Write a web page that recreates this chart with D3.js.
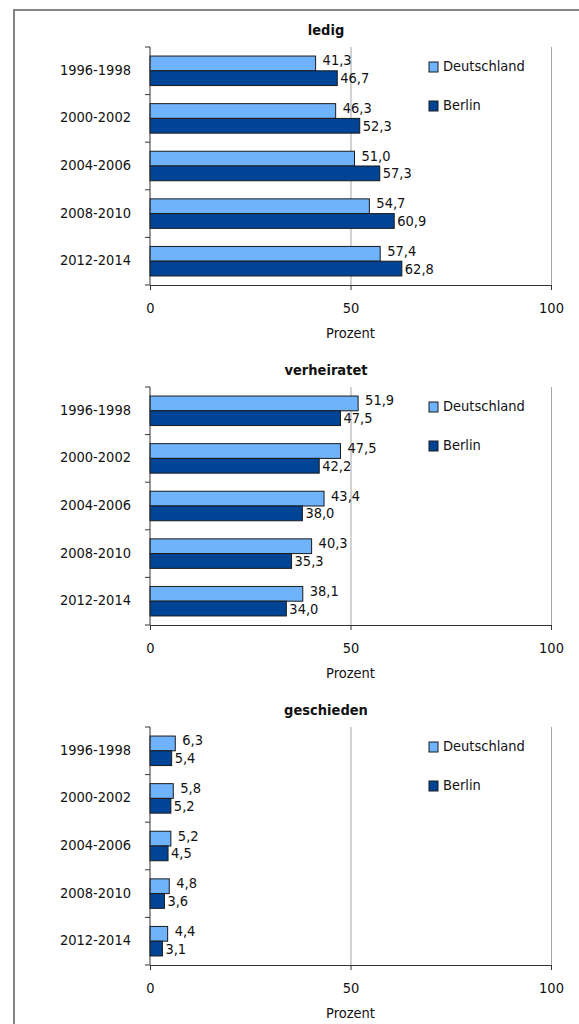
<!DOCTYPE html>
<html><head><meta charset="utf-8">
<script src="https://cdn.jsdelivr.net/npm/d3@7"></script>
<style>
html,body{margin:0;padding:0;background:#fff;}
svg{display:block;}
text{font-family:"DejaVu Sans Condensed","Open Sans",sans-serif;fill:#111;}
</style></head>
<body>
<svg id="chart" width="579" height="1024"></svg>
<script>
const categories = ["1996-1998","2000-2002","2004-2006","2008-2010","2012-2014"];
const seriesNames = ["Deutschland","Berlin"];
const panelTitles = ["ledig","verheiratet","geschieden"];
const ledigDeutschland = [41.3,46.3,51.0,54.7,57.4];
const ledigBerlin = [46.7,52.3,57.3,60.9,62.8];
const verheiratetDeutschland = [51.9,47.5,43.4,40.3,38.1];
const verheiratetBerlin = [47.5,42.2,38.0,35.3,34.0];
const geschiedenDeutschland = [6.3,5.8,5.2,4.8,4.4];
const geschiedenBerlin = [5.4,5.2,4.5,3.6,3.1];
const xTicks = [0,50,100];
const axisTitle = "Prozent";

const panels = [
  {title: panelTitles[0], data: [ledigDeutschland, ledigBerlin]},
  {title: panelTitles[1], data: [verheiratetDeutschland, verheiratetBerlin]},
  {title: panelTitles[2], data: [geschiedenDeutschland, geschiedenBerlin]}
];
const colors = ["#6fb3fd","#004595"];
const FS = 14.5;
const FF = "DejaVu Sans Condensed, Open Sans, sans-serif";

const svg = d3.select("#chart");
// outer frame
svg.append("line").attr("x1",14).attr("x2",14).attr("y1",9).attr("y2",1024).attr("stroke","#858585").attr("stroke-width",2);
svg.append("line").attr("x1",14).attr("x2",579).attr("y1",10).attr("y2",10).attr("stroke","#858585").attr("stroke-width",2);

const x = d3.scaleLinear().domain([0,100]).range([150,551]);

panels.forEach((p, pi) => {
  const off = pi * 340;
  const top = 47 + off, bottom = 285 + off;
  const g = svg.append("g");
  const y = d3.scaleBand().domain(categories).range([top, bottom]).paddingInner(0.38).paddingOuter(0.19);
  const y2 = d3.scaleBand().domain([0,1]).range([0, y.bandwidth()]);

  // gridlines
  g.selectAll(".grid").data(xTicks.slice(1)).join("line")
    .attr("x1", d => x(d)+0.5).attr("x2", d => x(d)+0.5)
    .attr("y1", top).attr("y2", bottom)
    .attr("stroke", "#a6a6a6").attr("stroke-width", 1);

  // title
  g.append("text").attr("x", 326).attr("y", top - 16)
    .attr("text-anchor","middle").attr("dominant-baseline","middle").attr("font-size",FS).attr("font-weight","bold").text(p.title);

  // bars
  p.data.forEach((vals, si) => {
    g.selectAll(".bar"+si).data(vals).join("rect")
      .attr("x", x(0)).attr("y", (d,i) => y(categories[i]) + y2(si))
      .attr("width", d => x(d) - x(0)).attr("height", y2.bandwidth())
      .attr("fill", colors[si]).attr("stroke", "#1a1a1a").attr("stroke-width", 1);
    g.selectAll(".lab"+si).data(vals).join("text")
      .attr("x", d => x(d) + (si === 0 ? 7 : 3))
      .attr("y", (d,i) => y(categories[i]) + y2(si) + y2.bandwidth()/2 + (si === 0 ? -2 : 1))
      .attr("dominant-baseline","middle").attr("font-size",FS)
      .text(d => d3.format(".1f")(d).replace(".", ","));
  });

  // y axis
  const yAxisG = g.append("g").attr("transform", `translate(${x(0)},0)`);
  yAxisG.append("line").attr("x1",0).attr("x2",0).attr("y1",top).attr("y2",bottom).attr("stroke","#333");
  const bounds = d3.range(categories.length+1).map(i => top + i*(bottom-top)/categories.length);
  yAxisG.selectAll(".tk").data(bounds).join("line")
    .attr("x1",-5).attr("x2",0).attr("y1",d=>d).attr("y2",d=>d).attr("stroke","#333");
  yAxisG.selectAll(".cl").data(categories).join("text")
    .attr("x",-19).attr("y", d => y(d) + y.bandwidth()/2)
    .attr("text-anchor","end").attr("dominant-baseline","middle").attr("font-size",FS).text(d=>d);

  // x axis
  const xAxis = d3.axisBottom(x).tickValues(xTicks).tickSize(5).tickSizeOuter(0).tickPadding(13);
  const xg = g.append("g").attr("transform", `translate(0,${bottom})`).call(xAxis);
  xg.select(".domain").attr("stroke","#333");
  xg.selectAll(".tick line").attr("stroke","#333");
  xg.selectAll(".tick text").attr("font-size",FS).attr("font-family",FF).attr("fill","#111");
  g.append("text").attr("x", x(50)).attr("y", bottom + 49).attr("text-anchor","middle").attr("dominant-baseline","middle").attr("font-size",FS).text(axisTitle);

  // legend
  seriesNames.forEach((s, si) => {
    const ly = top + 15 + si*39;
    g.append("rect").attr("x",429).attr("y",ly).attr("width",9).attr("height",10)
      .attr("fill",colors[si]).attr("stroke","#1a1a1a").attr("stroke-width",1);
    g.append("text").attr("x",443).attr("y",ly+4.5).attr("dominant-baseline","middle").attr("font-size",14.5).text(s);
  });
});
</script>
</body></html>
